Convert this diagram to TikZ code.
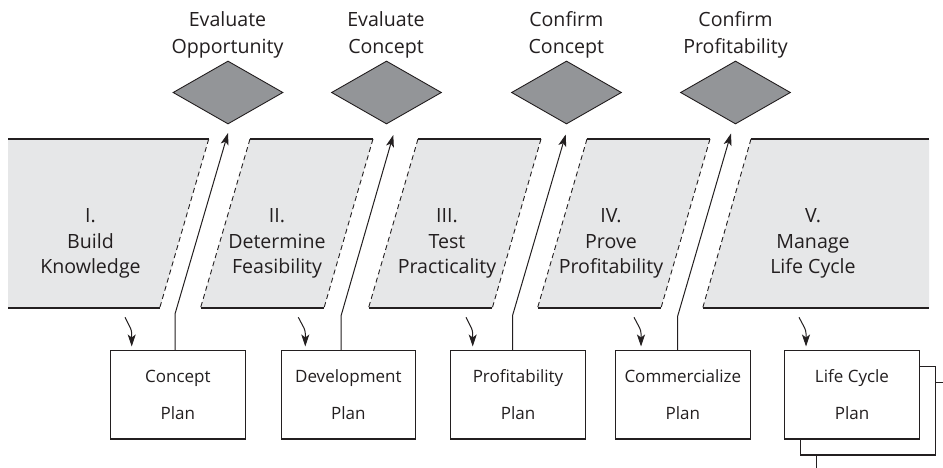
\documentclass[tikz,border=0pt]{standalone}
\usepackage{fontspec}
\setmainfont{Open Sans}
\usetikzlibrary{arrows.meta,shapes.geometric}
\definecolor{ink}{HTML}{231F20}
\definecolor{bandgray}{HTML}{E6E7E8}
\definecolor{gategray}{HTML}{939598}
\begin{document}
\begin{tikzpicture}[x=1bp,y=-1bp,
  band/.style={fill=bandgray,draw=none},
  edge/.style={draw=ink,line width=1.1bp},
  cut/.style={draw=ink,line width=0.9bp,dash pattern=on 5bp off 3.5bp},
  gate/.style={diamond,draw=ink,fill=gategray,line width=0.9bp,minimum width=110bp,minimum height=63bp,inner sep=0pt},
  plan/.style={draw=ink,fill=white,line width=1.1bp,minimum width=134.5bp,minimum height=88.3bp,inner sep=0pt,align=center,font=\fontsize{17bp}{36.6bp}\selectfont,text=ink},
  phase/.style={align=center,font=\fontsize{19.6bp}{25.5bp}\selectfont,text=ink,anchor=base,inner sep=0pt},
  gatelabel/.style={align=center,font=\fontsize{19.6bp}{26.5bp}\selectfont,text=ink,anchor=base,inner sep=0pt},
  flow/.style={draw=ink,line width=1bp,-{Stealth[length=12bp,width=8bp,inset=3bp]}},
  back/.style={flow,rounded corners=3bp}
]
\useasboundingbox (0,0) rectangle (943,468);
\fill[white] (0,0) rectangle (943,468);

% phase band
\path[band] (8,139) -- (208.7,139) -- (159.7,308) -- (8,308) -- cycle;
\path[band] (250,139) -- (373,139) -- (324,308) -- (200.5,308) -- cycle;
\path[band] (418,139) -- (541,139) -- (492.3,308) -- (368.5,308) -- cycle;
\path[band] (587,139) -- (710,139) -- (661,308) -- (537.5,308) -- cycle;
\path[band] (751,139) -- (929,139) -- (929,308) -- (702.7,308) -- cycle;
\draw[edge] (8,139) -- (208.7,139) (8,308) -- (159.7,308);
\draw[edge] (250,139) -- (373,139) (200.5,308) -- (324,308);
\draw[edge] (418,139) -- (541,139) (368.5,308) -- (492.3,308);
\draw[edge] (587,139) -- (710,139) (537.5,308) -- (661,308);
\draw[edge] (751,139) -- (929,139) (702.7,308) -- (929,308);
\draw[cut] (208.7,139) -- (159.7,308);
\draw[cut] (250,139) -- (200.5,308);
\draw[cut] (373,139) -- (324,308);
\draw[cut] (418,139) -- (368.5,308);
\draw[cut] (541,139) -- (492.3,308);
\draw[cut] (587,139) -- (537.5,308);
\draw[cut] (710,139) -- (661,308);
\draw[cut] (751,139) -- (702.7,308);

\node[phase] (p1) at (90.5,274) {I.\\Build\\Knowledge};
\node[phase] (p2) at (277,274) {II.\\Determine\\Feasibility};
\node[phase] (p3) at (447,274) {III.\\Test\\Practicality};
\node[phase] (p4) at (611,274) {IV.\\Prove\\Profitability};
\node[phase] (p5) at (813,274) {V.\\Manage\\Life Cycle};

% gates
\node[gate] (d1) at (228,92.5) {};
\node[gate] (d2) at (386.5,92.5) {};
\node[gate] (d3) at (566.5,92.5) {};
\node[gate] (d4) at (735.5,92.5) {};
\node[gatelabel] (g1) at (227.5,53.3) {Evaluate\\Opportunity};
\node[gatelabel] (g2) at (386,53.3) {Evaluate\\Concept};
\node[gatelabel] (g3) at (566.3,53.3) {Confirm\\Concept};
\node[gatelabel] (g4) at (735.5,53.3) {Confirm\\Profitability};

% plans
\begin{scope}
\clip (0,0) rectangle (943,468);
\node[plan] (b5c) at (884,426.85) {};
\node[plan] (b5b) at (868,410.85) {};
\end{scope}
\node[plan] (b1) at (177.85,394.85) {Concept\\Plan};
\node[plan] (b2) at (348.35,394.85) {Development\\Plan};
\node[plan] (b3) at (518,394.85) {Profitability\\Plan};
\node[plan] (b4) at (682.85,394.85) {Commercialize\\Plan};
\node[plan] (b5) at (852,394.85) {Life Cycle\\Plan};

% upward arrows to gates
\coordinate (t1) at (228,133);
\coordinate (t2) at (393.3,135);
\coordinate (t3) at (565.7,134.5);
\coordinate (t4) at (731,133.5);
\coordinate (k1) at (175,314);
\coordinate (k2) at (341,316);
\coordinate (k3) at (512.7,315);
\coordinate (k4) at (677.7,316);
\draw[flow] (b1.north -| k1) -- (k1) -- (t1);
\draw[flow] (b2.north -| k2) -- (k2) -- (t2);
\draw[flow] (b3.north -| k3) -- (k3) -- (t3);
\draw[flow] (b4.north -| k4) -- (k4) -- (t4);

% feedback arrows into plans
\coordinate (s1) at (125,317.3);
\coordinate (s2) at (298.3,317.3);
\coordinate (s3) at (466,317.3);
\coordinate (s4) at (634,317.3);
\coordinate (s5) at (799,317.3);
\coordinate (e1) at (131.7,346.5);
\coordinate (e2) at (305.3,346.5);
\coordinate (e3) at (472.7,346.5);
\coordinate (e4) at (641,346.5);
\coordinate (e5) at (806,346.5);
\draw[back] (s1) -- ([yshift=16bp]e1) -- (e1);
\draw[back] (s2) -- ([yshift=16bp]e2) -- (e2);
\draw[back] (s3) -- ([yshift=16bp]e3) -- (e3);
\draw[back] (s4) -- ([yshift=16bp]e4) -- (e4);
\draw[back] (s5) -- ([yshift=16bp]e5) -- (e5);
\end{tikzpicture}
\end{document}
